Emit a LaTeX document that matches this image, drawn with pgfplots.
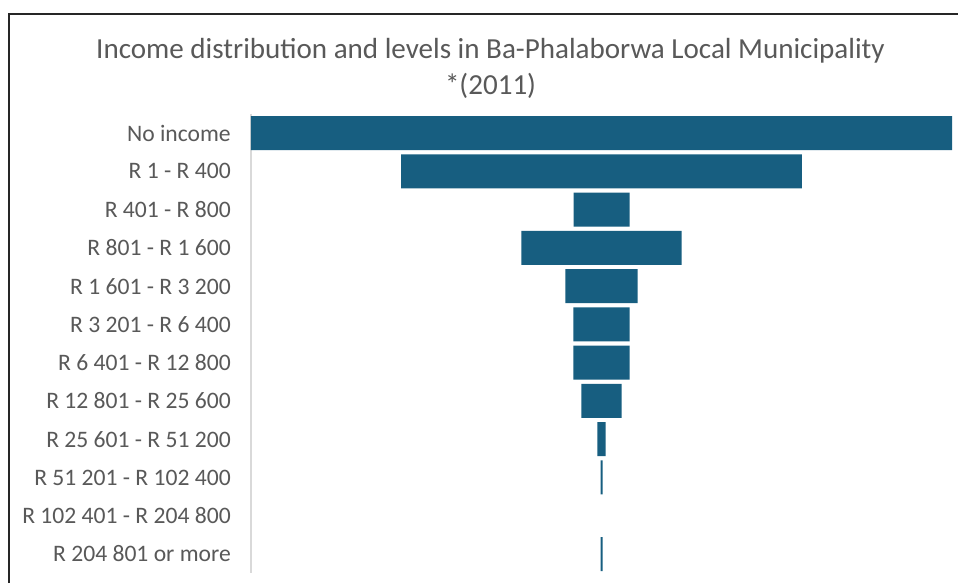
\documentclass[border=0pt]{standalone}
\usepackage{pgfplots}
\pgfplotsset{compat=1.18}
\usepackage{pgfplotstable}
\usepackage{fontspec}
\setmainfont{Carlito}
\definecolor{barc}{RGB}{23,94,128}
\definecolor{txt}{RGB}{89,89,89}
\pgfplotstableread{
y v
0 70100
1 40070
2 5600
3 16030
4 7230
5 5630
6 5630
7 4030
8 830
9 200
10 0
11 200
}\datatab
\begin{document}
\begin{tikzpicture}
\useasboundingbox (0,0) rectangle (718.5pt,437.25pt);
\fill[white] (0,0) rectangle (718.5pt,437.25pt);
\draw[line width=1.1pt,black!85] (6.75pt,0) -- (6.75pt,426.75pt) -- (718.5pt,426.75pt);
\node[font=\fontsize{21.8}{27}\selectfont, text=txt, align=center] at (367.9pt,386pt) {Income distribution and levels in Ba-Phalaborwa Local Municipality\\*(2011)};
\begin{axis}[
  at={(188.25pt,7.4pt)}, anchor=south west,
  scale only axis, width=525.75pt, height=344.4pt,
  xmin=0, xmax=70100,
  ymin=-0.5, ymax=11.5, y dir=reverse,
  axis x line=none,
  axis y line*=left,
  y axis line style={draw=black!15, line width=0.8pt, -},
  ytick={0,...,11},
  yticklabels={No income, R 1 - R 400, R 401 - R 800, R 801 - R 1 600, R 1 601 - R 3 200, R 3 201 - R 6 400, R 6 401 - R 12 800, R 12 801 - R 25 600, R 25 601 - R 51 200, R 51 201 - R 102 400, R 102 401 - R 204 800, R 204 801 or more},
  yticklabel style={font=\fontsize{17.7}{19}\selectfont, text=txt, inner sep=0pt, xshift=-15pt},
  major tick length=0pt,
  xbar stacked, bar shift=0pt, bar width=25.5pt,
  clip=false,
]
\addplot[draw=none, fill=none] table[x expr=(70100-\thisrow{v})/2, y=y] {\datatab};
\addplot[draw=none, fill=barc] table[x=v, y=y] {\datatab};
\end{axis}
\end{tikzpicture}
\end{document}
